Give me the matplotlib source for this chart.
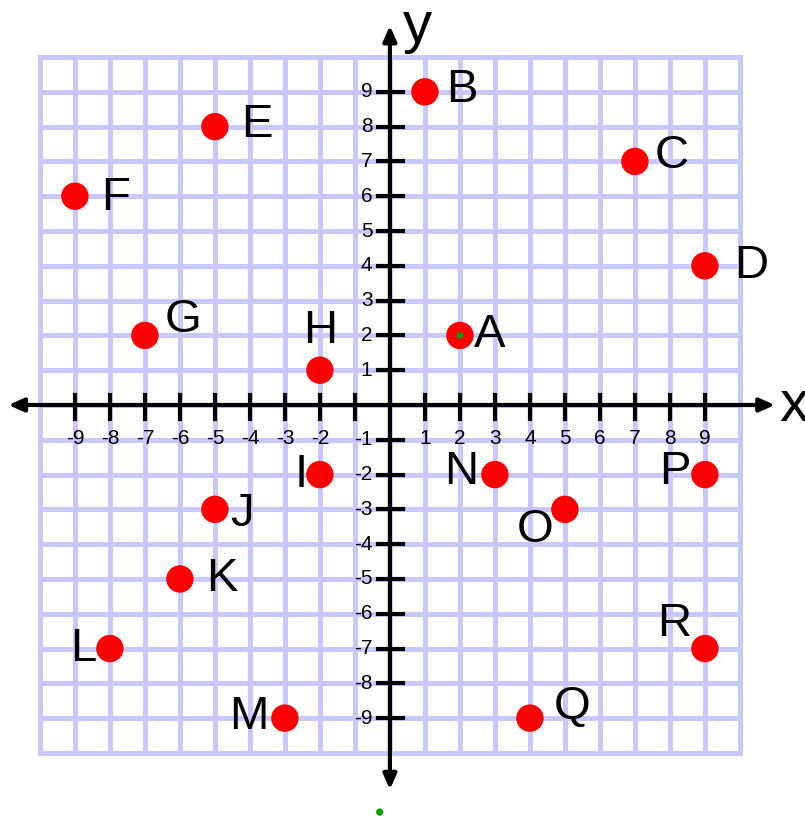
import numpy as np
import matplotlib.pyplot as plt

plt.rcParams['font.family'] = ['Liberation Sans', 'DejaVu Sans']

# points on the coordinate plane
names = ['A', 'B', 'C', 'D', 'E', 'F', 'G', 'H', 'I',
         'J', 'K', 'L', 'M', 'N', 'O', 'P', 'Q', 'R']
xs = [2, 1, 7, 9, -5, -9, -7, -2, -2, -5, -6, -8, -3, 3, 5, 9, 4, 9]
ys = [2, 9, 7, 4, 8, 6, 2, 1, -2, -3, -5, -7, -9, -2, -3, -2, -9, -7]

x_ticks = [-9, -8, -7, -6, -5, -4, -3, -2, 1, 2, 3, 4, 5, 6, 7, 8, 9]
y_ticks = [-9, -8, -7, -6, -5, -4, -3, -2, -1, 1, 2, 3, 4, 5, 6, 7, 8, 9]

# label offsets (points) relative to each dot
offsets = {
    'A': (10, 0, 'left'), 'B': (15, 1, 'left'), 'C': (14, 4, 'left'),
    'D': (21, 0, 'left'), 'E': (19, 1, 'left'), 'F': (19, -1, 'left'),
    'G': (14, 11, 'left'), 'H': (0, 28, 'center'), 'I': (-9, 0, 'right'),
    'J': (11, -3, 'left'), 'K': (19, 0, 'left'), 'L': (-10, 0, 'right'),
    'M': (-12, 1, 'right'), 'N': (-12, 2, 'right'), 'O': (-8, -15, 'right'),
    'P': (-10, 2, 'right'), 'Q': (17, 8, 'left'), 'R': (-10, 18, 'right'),
}

fig = plt.figure(figsize=(8.05, 8.18), dpi=100)
ax = fig.add_axes([0, 0, 1, 1])
ax.set_xlim(-11.14, 11.86)
ax.set_ylim(-11.87, 11.64)
ax.axis('off')

# grid
grid_col = '#c8c8ff'
for v in range(-10, 11):
    ax.plot([v, v], [-10, 10], color=grid_col, lw=3.6, zorder=1,
            solid_capstyle='projecting')
    ax.plot([-10, 10], [v, v], color=grid_col, lw=3.6, zorder=1,
            solid_capstyle='projecting')

# axes with arrows
arrow = dict(arrowstyle='<|-|>,head_length=0.9,head_width=0.4',
             color='black', lw=3, shrinkA=0, shrinkB=0)
ax.annotate('', xy=(11.0, 0), xytext=(-10.9, 0), arrowprops=arrow, zorder=3)
ax.annotate('', xy=(0, 10.9), xytext=(0, -11.05), arrowprops=arrow, zorder=3)
ax.text(11.12, -0.45, 'x', fontsize=42, ha='left', va='baseline', zorder=4)
ax.text(0.78, 10.42, 'y', fontsize=42, ha='center', va='baseline', zorder=4)

# tick marks and tick labels
for t in x_ticks + [-1]:
    ax.plot([t, t], [-0.4, 0.3], color='black', lw=3, zorder=3)
for t in x_ticks:
    ax.text(t, -0.97, str(t), fontsize=15, ha='center', va='center', zorder=4)
for t in y_ticks:
    ax.plot([-0.35, 0.37], [t, t], color='black', lw=3, zorder=3)
    ax.text(-0.5, t, str(t), fontsize=15, ha='right', va='center', zorder=4)

# points and labels
ax.scatter(xs, ys, s=390, color='red', edgecolors='none', zorder=5)
for n, x, y in zip(names, xs, ys):
    dx, dy, ha = offsets[n]
    ax.annotate(n, (x, y), xytext=(dx, dy), textcoords='offset points',
                fontsize=34, ha=ha, va='center', zorder=6)

# small green dots
ax.scatter([2, -0.29], [2, -11.7], s=[14, 18], color='#00a000', zorder=7)

fig.savefig('out.png', dpi=100)
